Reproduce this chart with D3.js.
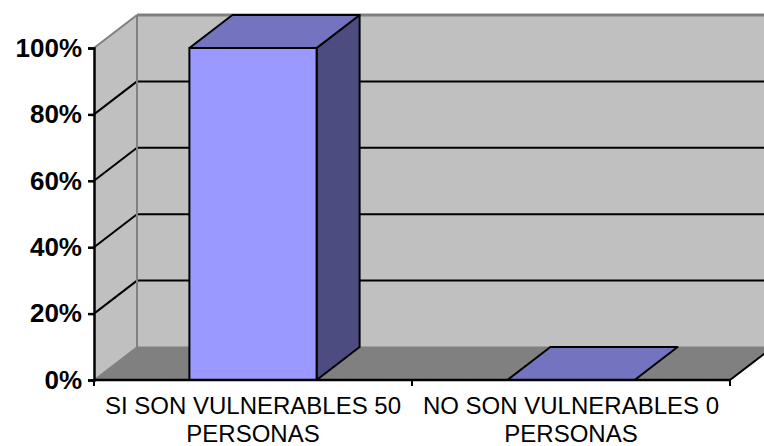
<!DOCTYPE html>
<html><head><meta charset="utf-8">
<script src="https://cdn.jsdelivr.net/npm/d3@7/dist/d3.min.js"></script>
<style>html,body{margin:0;padding:0;background:#fff;overflow:hidden}</style>
</head><body>
<script>
const categories = ["SI SON VULNERABLES 50 PERSONAS", "NO SON VULNERABLES 0 PERSONAS"];
const labelLines = [["SI SON VULNERABLES 50", "PERSONAS"], ["NO SON VULNERABLES 0", "PERSONAS"]];
const values = [1.0, 0.0];
const yTicks = [0, 0.2, 0.4, 0.6, 0.8, 1.0];

const W = 764, H = 446;
const x0 = 94, x1 = 730, yBot = 380, yTop = 48;
const DX = 43, DY = -33;

const svg = d3.select("body").append("svg").attr("width", W).attr("height", H);
const x = d3.scaleBand().domain(categories).range([x0, x1]).padding(0);
const y = d3.scaleLinear().domain([0, 1]).range([yBot, yTop]);
const pts = a => a.map(p => p.join(",")).join(" ");

// back wall
svg.append("polygon").attr("points", pts([[x0+DX, yTop+DY],[x1+DX, yTop+DY],[x1+DX, yBot+DY],[x0+DX, yBot+DY]]))
  .attr("fill", "#C0C0C0");
// side wall
svg.append("polygon").attr("points", pts([[x0, yTop],[x0+DX, yTop+DY],[x0+DX, yBot+DY],[x0, yBot]]))
  .attr("fill", "#C0C0C0");
// floor
svg.append("polygon").attr("points", pts([[x0, yBot],[x0+DX, yBot+DY],[x1+DX, yBot+DY],[x1, yBot]]))
  .attr("fill", "#808080");

// gridlines
yTicks.forEach(t => {
  if (t === 0) return;
  const c = t === 1 ? "#808080" : "#000";
  svg.append("line").attr("x1", x0+DX).attr("x2", x1+DX).attr("y1", y(t)+DY).attr("y2", y(t)+DY)
    .attr("stroke", c).attr("stroke-width", t === 1 ? 3 : 2);
  svg.append("line").attr("x1", x0).attr("x2", x0+DX).attr("y1", y(t)).attr("y2", y(t)+DY)
    .attr("stroke", c).attr("stroke-width", 2);
});
// back wall left edge
svg.append("line").attr("x1", x0+DX).attr("x2", x0+DX).attr("y1", yTop+DY).attr("y2", yBot+DY)
  .attr("stroke", "#808080").attr("stroke-width", 2);
// floor back edge / side wall bottom diagonal
svg.append("line").attr("x1", x0).attr("x2", x0+DX).attr("y1", yBot).attr("y2", yBot+DY)
  .attr("stroke", "#808080").attr("stroke-width", 1.5);
svg.append("line").attr("x1", x0+DX).attr("x2", x1+DX).attr("y1", yBot+DY).attr("y2", yBot+DY)
  .attr("stroke", "#808080").attr("stroke-width", 1);
// right floor edge
svg.append("line").attr("x1", x1).attr("x2", x1+DX).attr("y1", yBot).attr("y2", yBot+DY)
  .attr("stroke", "#000").attr("stroke-width", 2);

// bars
const bw = x.bandwidth() * 0.4;
const g = svg.append("g").attr("stroke", "#000").attr("stroke-width", 2).attr("stroke-linejoin", "round");
categories.forEach((c, i) => {
  const bx = x(c) + (x.bandwidth() - bw) / 2;
  const yt = y(values[i]);
  if (values[i] > 0) {
    g.append("polygon").attr("points", pts([[bx+bw, yt],[bx+bw+DX, yt+DY],[bx+bw+DX, yBot+DY],[bx+bw, yBot]]))
      .attr("fill", "#4C4C80");
    g.append("rect").attr("x", bx).attr("y", yt).attr("width", bw).attr("height", yBot - yt)
      .attr("fill", "#9999FF");
  }
  g.append("polygon").attr("points", pts([[bx, yt],[bx+bw, yt],[bx+bw+DX, yt+DY],[bx+DX, yt+DY]]))
    .attr("fill", "#7373BF");
});

// y axis
const yAxis = svg.append("g").attr("transform", `translate(${x0},0)`)
  .call(d3.axisLeft(y).tickValues(yTicks).tickFormat(d3.format(".0%")).tickSize(6).tickPadding(6));
yAxis.select(".domain").attr("stroke", "#000").attr("stroke-width", 2.5);
yAxis.selectAll(".tick line").attr("stroke", "#000").attr("stroke-width", 2.5);
yAxis.selectAll(".tick text").attr("font-family", "Liberation Sans, Arial, sans-serif")
  .attr("font-size", 26).attr("font-weight", "bold").attr("fill", "#000");

// x axis line and ticks
svg.append("line").attr("x1", x0).attr("x2", x1).attr("y1", yBot).attr("y2", yBot)
  .attr("stroke", "#000").attr("stroke-width", 2.5);
[x0, ...categories.map(c => x(c) + x.bandwidth())].forEach(tx => {
  svg.append("line").attr("x1", tx).attr("x2", tx).attr("y1", yBot).attr("y2", yBot + 6)
    .attr("stroke", "#000").attr("stroke-width", 2);
});
categories.forEach((c, i) => {
  const t = svg.append("text").attr("x", x(c) + x.bandwidth()/2).attr("text-anchor", "middle")
    .attr("font-family", "Liberation Sans, Arial, sans-serif").attr("font-size", 24).attr("fill", "#000");
  labelLines[i].forEach((ln, k) => {
    t.append("tspan").attr("x", x(c) + x.bandwidth()/2).attr("y", 414 + k * 28).text(ln);
  });
});
</script>
</body></html>
